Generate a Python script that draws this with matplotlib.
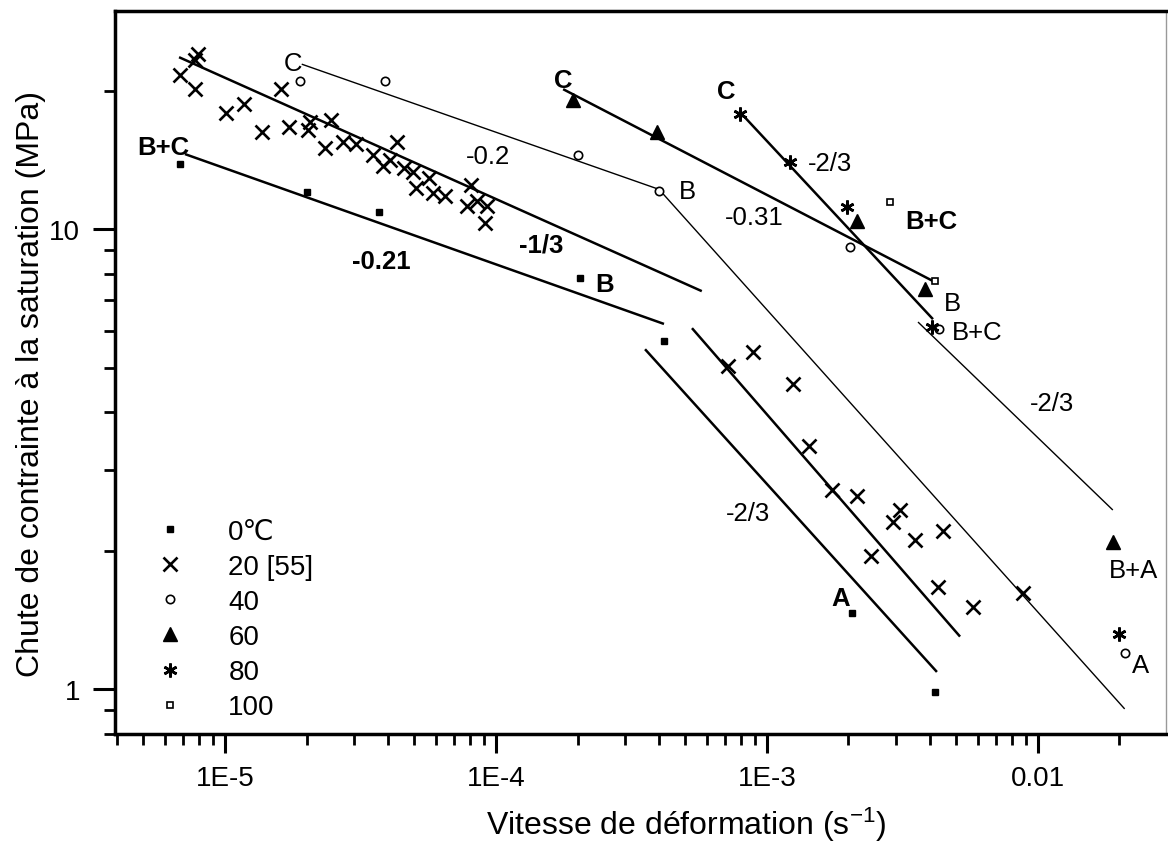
import numpy as np
import matplotlib
matplotlib.use('Agg')
import matplotlib.pyplot as plt
from matplotlib.ticker import FixedLocator, FixedFormatter, NullFormatter

# ---------------- data ----------------
x0 = [6.82e-6, 2.01e-5, 3.70e-5, 2.04e-4, 4.17e-4, 2.06e-3, 4.17e-3]
y0 = [13.85, 12.03, 10.9, 7.83, 5.71, 1.46, 0.985]

x20 = [7.95e-6, 7.75e-6, 6.82e-6, 7.75e-6, 1.01e-5, 1.175e-5, 1.61e-5, 1.37e-5,
       1.72e-5, 2.02e-5, 2.06e-5, 2.46e-5, 2.34e-5, 2.72e-5, 3.04e-5, 3.52e-5,
       4.31e-5, 3.83e-5, 4.06e-5, 4.58e-5, 4.94e-5, 5.07e-5, 5.66e-5, 5.85e-5,
       6.48e-5, 8.09e-5, 7.82e-5, 8.51e-5, 9.27e-5, 9.11e-5,
       8.88e-4, 7.18e-4, 1.25e-3, 1.43e-3, 1.74e-3, 2.15e-3, 2.42e-3, 3.10e-3,
       2.92e-3, 3.52e-3, 4.46e-3, 4.28e-3, 5.76e-3, 8.80e-3]
y20 = [24.0, 23.3, 21.6, 20.2, 17.9, 18.7, 20.2, 16.3,
       16.7, 16.4, 17.1, 17.3, 15.0, 15.5, 15.3, 14.5,
       15.5, 13.7, 14.1, 13.6, 13.3, 12.3, 12.9, 12.0,
       11.8, 12.5, 11.2, 11.5, 11.2, 10.3,
       5.40, 5.04, 4.60, 3.38, 2.71, 2.63, 1.95, 2.45,
       2.31, 2.11, 2.21, 1.67, 1.51, 1.62]

x40 = [1.89e-5, 3.89e-5, 2.01e-4, 4.0e-4, 2.02e-3, 4.31e-3, 2.09e-2]
y40 = [20.98, 20.98, 14.5, 12.1, 9.14, 6.06, 1.20]

x60 = [1.92e-4, 3.93e-4, 2.15e-3, 3.83e-3, 1.89e-2]
y60 = [19.1, 16.3, 10.4, 7.41, 2.09]

x80 = [7.95e-4, 1.22e-3, 1.97e-3, 4.06e-3, 1.99e-2]
y80 = [17.8, 14.0, 11.16, 6.12, 1.32]

x100 = [2.84e-3, 4.17e-3]
y100 = [11.45, 7.71]

legend_labels = ['0℃', '20 [55]', '40', '60', '80', '100']

# fitted lines: (x start, x end), (y start, y end)
fit_0_bc = ([7.12e-6, 4.17e-4], [14.56, 6.22])
fit_20_bc = ([6.77e-6, 5.75e-4], [23.65, 7.33])
fit_40_c = ([1.92e-5, 4.0e-4], [22.84, 12.2])
fit_40_ba = ([4.0e-4, 2.09e-2], [12.2, 0.905])
fit_60_c = ([1.77e-4, 4.10e-3], [20.15, 7.71])
fit_80_c = ([8.0e-4, 4.10e-3], [17.9, 6.37])
fit_bc_right = ([3.61e-3, 1.89e-2], [6.28, 2.45])
fit_0_a = ([3.55e-4, 4.24e-3], [5.48, 1.089])
fit_20_a = ([5.29e-4, 5.16e-3], [6.09, 1.30])

thick_fits = [fit_0_bc, fit_20_bc, fit_60_c, fit_80_c, fit_0_a, fit_20_a]
thin_fits = [fit_40_c, fit_40_ba, fit_bc_right]

# annotations: text, x, y, bold
ann_text = ['C', 'B+C', '-0.2', '-0.21', '-1/3', 'B', 'C', 'C', '-2/3', 'B',
            '-0.31', 'B+C', 'B', 'B+C', '-2/3', '-2/3', 'A', 'B+A', 'A']
ann_x = [1.78e-5, 5.90e-6, 9.34e-5, 3.76e-5, 1.466e-4, 2.52e-4, 1.77e-4, 7.06e-4,
         1.708e-3, 5.07e-4, 8.95e-4, 4.03e-3, 4.82e-3, 5.95e-3, 1.126e-2,
         8.51e-4, 1.875e-3, 2.26e-2, 2.40e-2]
ann_y = [22.96, 15.08, 14.41, 8.52, 9.28, 7.59, 21.08, 19.95, 13.92, 12.1,
         10.62, 10.41, 6.91, 5.97, 4.18, 2.41, 1.577, 1.814, 1.127]
ann_bold = [False, True, False, True, True, True, True, True, False, False,
            False, True, False, False, False, False, True, False, False]

xticks_major = [1e-5, 1e-4, 1e-3, 1e-2]
xtick_labels = ['1E-5', '1E-4', '1E-3', '0.01']
yticks_major = [1, 10]
ytick_labels = ['1', '10']

# ---------------- drawing ----------------
plt.rcParams['font.family'] = ['Liberation Sans', 'DejaVu Sans']
plt.rcParams['mathtext.fontset'] = 'custom'
plt.rcParams['mathtext.rm'] = 'Liberation Sans'

fig = plt.figure(figsize=(11.68, 8.54), dpi=100)
ax = fig.add_axes([0.0985, 0.1393, 0.8998, 0.8466])
ax.set_xscale('log')
ax.set_yscale('log')

for xs, ys in thick_fits:
    ax.plot(xs, ys, color='black', lw=1.8, solid_capstyle='butt', zorder=2)
for xs, ys in thin_fits:
    ax.plot(xs, ys, color='black', lw=1.0, solid_capstyle='butt', zorder=2)

ax.plot(x0, y0, ls='none', marker='s', ms=4.8, mfc='black', mec='black', label=legend_labels[0], zorder=3)
ax.plot(x20, y20, ls='none', marker='x', ms=10, mew=1.9, color='black', label=legend_labels[1], zorder=3)
ax.plot(x40, y40, ls='none', marker='o', ms=6, mfc='white', mec='black', mew=1.2, label=legend_labels[2], zorder=3)
ax.plot(x60, y60, ls='none', marker='^', ms=9.5, color='black', label=legend_labels[3], zorder=3)
ax.plot(x80, y80, ls='none', marker=(6, 2, 0), ms=10, mew=1.9, color='black', label=legend_labels[4], zorder=3)
ax.plot(x100, y100, ls='none', marker='s', ms=5, mfc='white', mec='black', mew=1.2, label=legend_labels[5], zorder=3)

for t, xx, yy, b in zip(ann_text, ann_x, ann_y, ann_bold):
    ax.text(xx, yy, t, ha='center', va='center', fontsize=18.5,
            fontweight='bold' if b else 'normal', zorder=4)

ax.set_xlim(3.93e-6, 0.0297)
ax.set_ylim(0.798, 29.8)

minor_x = [m * 10.0 ** e for e in range(-6, -1) for m in range(2, 10)]
minor_y = [m * 10.0 ** e for e in range(-1, 2) for m in range(2, 10)]
ax.xaxis.set_major_locator(FixedLocator(xticks_major))
ax.xaxis.set_major_formatter(FixedFormatter(xtick_labels))
ax.xaxis.set_minor_locator(FixedLocator(minor_x))
ax.xaxis.set_minor_formatter(NullFormatter())
ax.yaxis.set_major_locator(FixedLocator(yticks_major))
ax.yaxis.set_major_formatter(FixedFormatter(ytick_labels))
ax.yaxis.set_minor_locator(FixedLocator(minor_y))
ax.yaxis.set_minor_formatter(NullFormatter())

ax.tick_params(which='major', direction='out', width=2.2, labelsize=20, pad=8)
ax.tick_params(axis='x', which='major', length=14)
ax.tick_params(axis='y', which='major', length=16, pad=9)
ax.tick_params(which='minor', direction='out', length=8, width=2.0)
ax.tick_params(top=False, right=False)

for s in ['left', 'bottom', 'top']:
    ax.spines[s].set_linewidth(2.5)
ax.spines['right'].set_linewidth(1.0)
ax.spines['right'].set_color('#999999')

ax.set_xlabel('Vitesse de déformation (s$\\mathregular{^{-1}}$)', fontsize=23)
ax.xaxis.set_label_coords(0.543, -0.098)
ax.set_ylabel('Chute de contrainte à la saturation (MPa)', fontsize=23)
ax.yaxis.set_label_coords(-0.066, 0.485)

leg = ax.legend(loc='upper left', bbox_to_anchor=(0.039, 0.298), frameon=False,
                fontsize=20, handlelength=1.0, handletextpad=1.6, labelspacing=0.33,
                borderpad=0, borderaxespad=0, numpoints=1)

fig.savefig('out.png', dpi=100, facecolor='white')
